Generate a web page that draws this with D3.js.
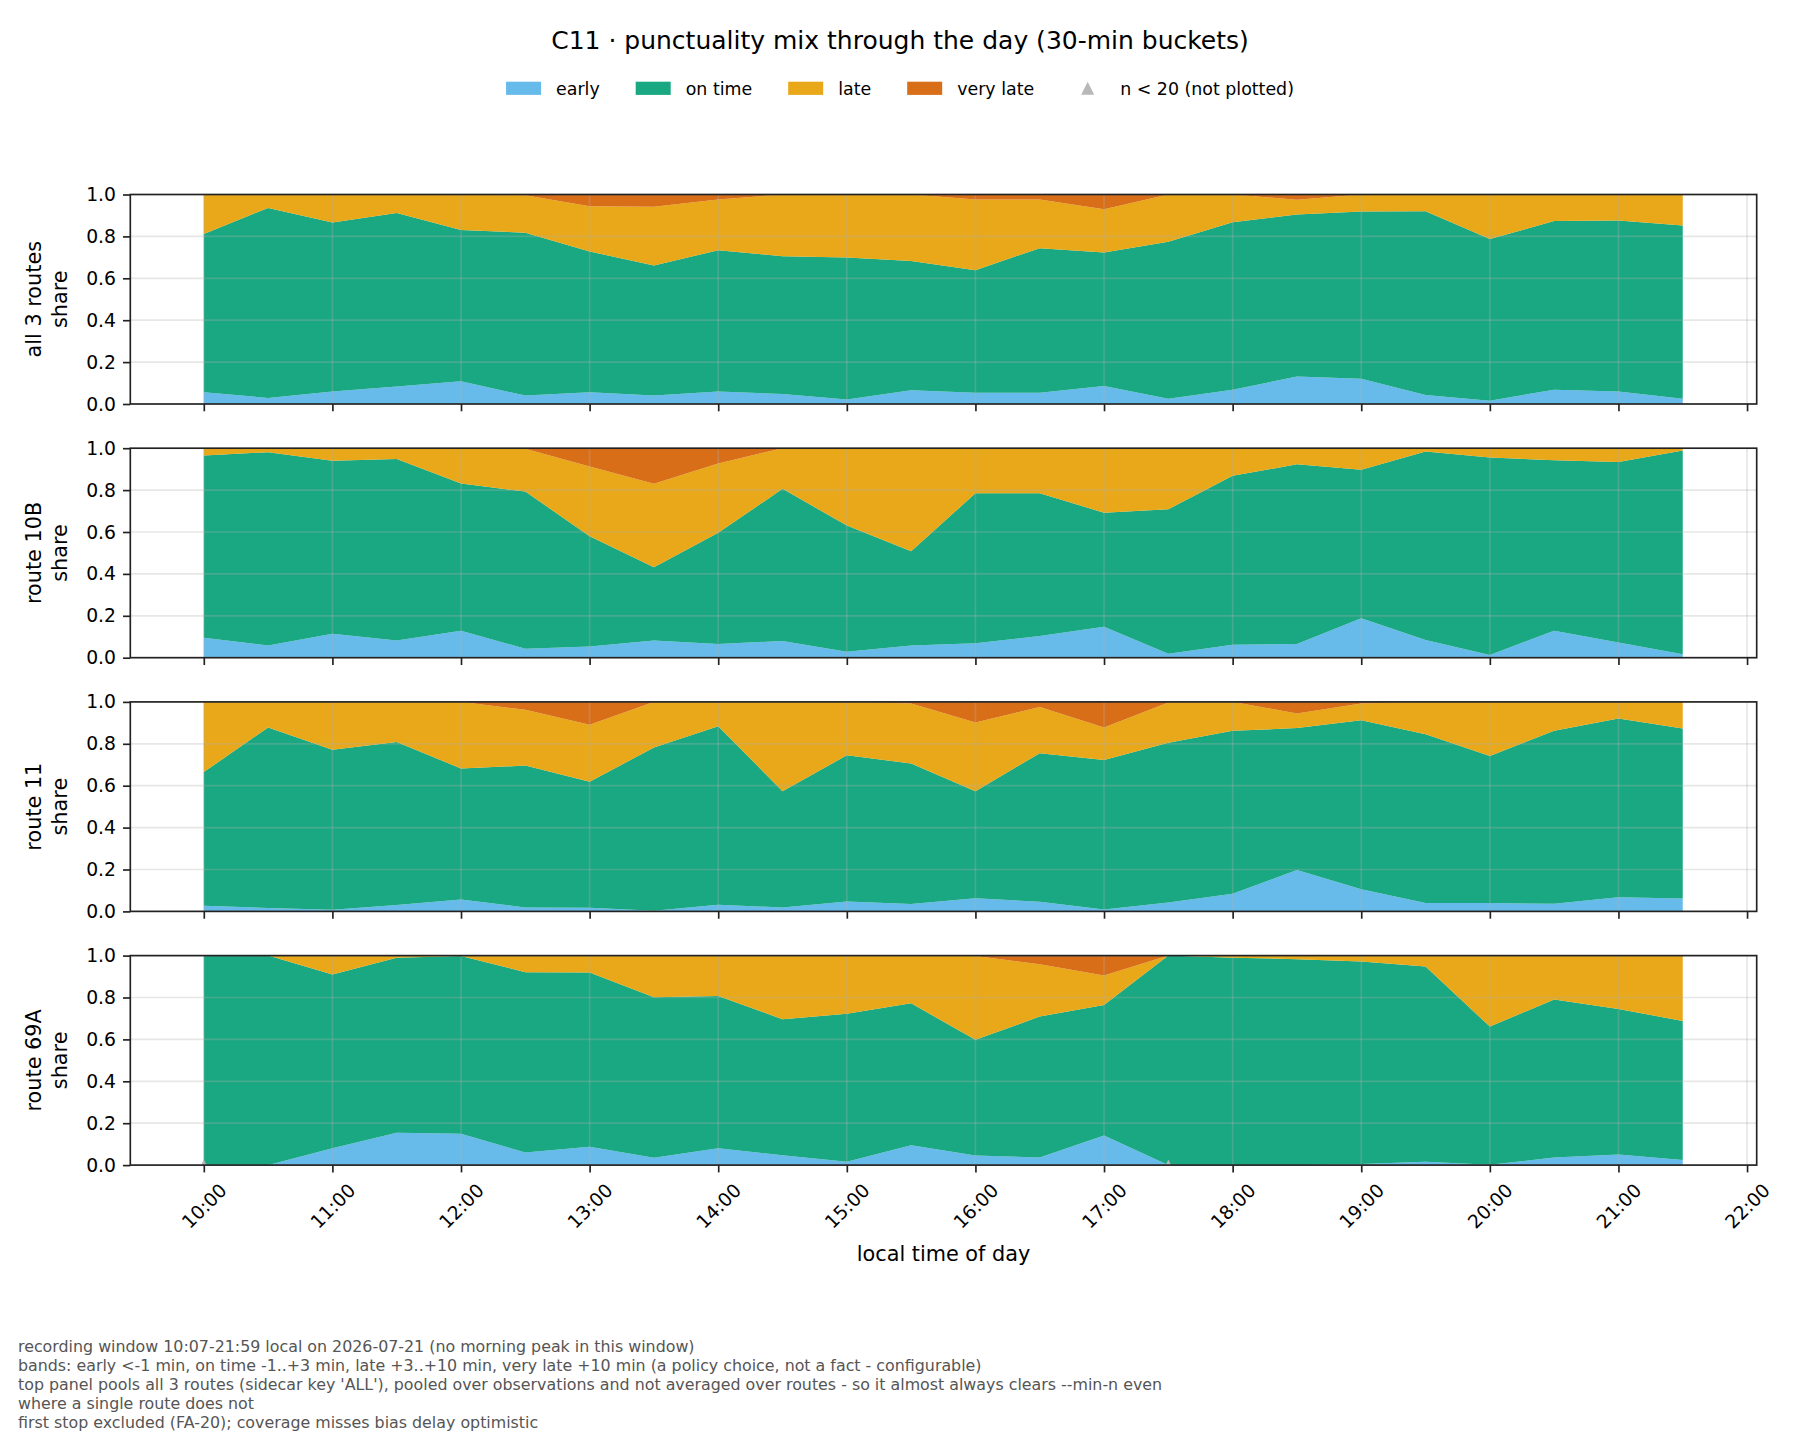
<!DOCTYPE html>
<html>
<head>
<meta charset="utf-8">
<script src="https://cdn.jsdelivr.net/npm/d3@7"></script>
<style>
  body { margin: 0; background: #fff; }
  svg text { font-family: "DejaVu Sans", sans-serif; }
</style>
</head>
<body>
<div id="chart"></div>
<script>
// 30-min buckets
const times = ["10:00", "10:30", "11:00", "11:30", "12:00", "12:30", "13:00", "13:30",
    "14:00", "14:30", "15:00", "15:30", "16:00", "16:30", "17:00", "17:30",
    "18:00", "18:30", "19:00", "19:30", "20:00", "20:30", "21:00", "21:30"];
const hourTicks = ["10:00", "11:00", "12:00", "13:00", "14:00", "15:00", "16:00",
    "17:00", "18:00", "19:00", "20:00", "21:00", "22:00"];
const yTicks = [0, 0.2, 0.4, 0.6, 0.8, 1.0];
const bands = ["early", "on time", "late", "very late"];
const bandColors = ["#56B4E9", "#009E73", "#E69F00", "#D55E00"];

// all 3 routes (pooled)
const allEarly = [0.056, 0.029, 0.060, 0.084, 0.108, 0.040, 0.056, 0.041, 0.060, 0.048, 0.022, 0.066,
    0.054, 0.054, 0.086, 0.025, 0.068, 0.131, 0.121, 0.043, 0.016, 0.068, 0.060, 0.025];
const allOnTime = [0.756, 0.907, 0.806, 0.828, 0.723, 0.778, 0.672, 0.620, 0.674, 0.657, 0.677, 0.617,
    0.585, 0.690, 0.637, 0.750, 0.800, 0.773, 0.798, 0.877, 0.772, 0.805, 0.816, 0.827];
const allLate = [0.188, 0.064, 0.134, 0.088, 0.169, 0.178, 0.216, 0.280, 0.242, 0.295, 0.301, 0.317,
    0.337, 0.232, 0.207, 0.225, 0.132, 0.071, 0.081, 0.080, 0.212, 0.127, 0.124, 0.148];
const allVeryLate = [0, 0, 0, 0, 0, 0.004, 0.056, 0.059, 0.024, 0, 0, 0,
    0.024, 0.024, 0.070, 0, 0, 0.025, 0, 0, 0, 0, 0, 0];

// route 10B
const r10bEarly = [0.095, 0.058, 0.114, 0.082, 0.129, 0.043, 0.054, 0.082, 0.065, 0.080, 0.028, 0.058,
    0.069, 0.103, 0.148, 0.019, 0.062, 0.065, 0.188, 0.085, 0.013, 0.129, 0.073, 0.016];
const r10bOnTime = [0.870, 0.923, 0.826, 0.866, 0.702, 0.750, 0.526, 0.350, 0.531, 0.726, 0.603, 0.450,
    0.716, 0.682, 0.544, 0.689, 0.806, 0.858, 0.709, 0.899, 0.943, 0.813, 0.861, 0.973];
const r10bLate = [0.035, 0.019, 0.060, 0.052, 0.169, 0.204, 0.333, 0.398, 0.331, 0.194, 0.369, 0.492,
    0.215, 0.215, 0.308, 0.292, 0.132, 0.077, 0.103, 0.016, 0.044, 0.058, 0.066, 0.011];
const r10bVeryLate = [0, 0, 0, 0, 0, 0.003, 0.087, 0.170, 0.073, 0, 0, 0,
    0, 0, 0, 0, 0, 0, 0, 0, 0, 0, 0, 0];

// route 11
const r11Early = [0.027, 0.016, 0.008, 0.030, 0.057, 0.019, 0.017, 0.003, 0.032, 0.019, 0.047, 0.035,
    0.063, 0.046, 0.009, 0.043, 0.084, 0.198, 0.106, 0.040, 0.040, 0.036, 0.068, 0.062];
const r11OnTime = [0.638, 0.862, 0.764, 0.779, 0.625, 0.677, 0.602, 0.779, 0.852, 0.555, 0.698, 0.671,
    0.511, 0.709, 0.714, 0.762, 0.778, 0.677, 0.807, 0.805, 0.702, 0.826, 0.853, 0.811];
const r11Late = [0.335, 0.122, 0.228, 0.191, 0.318, 0.266, 0.272, 0.218, 0.116, 0.426, 0.255, 0.286,
    0.328, 0.221, 0.155, 0.192, 0.138, 0.070, 0.079, 0.155, 0.258, 0.138, 0.079, 0.127];
const r11VeryLate = [0, 0, 0, 0, 0, 0.038, 0.109, 0, 0, 0, 0, 0.008,
    0.098, 0.024, 0.122, 0.003, 0, 0.055, 0.008, 0, 0, 0, 0, 0];

// route 69A
const r69aEarly = [0, 0, 0.081, 0.155, 0.150, 0.060, 0.087, 0.035, 0.081, 0.047, 0.016, 0.095,
    0.046, 0.036, 0.141, 0, 0, 0, 0.005, 0.016, 0.002, 0.036, 0.050, 0.024];
const r69aOnTime = [1.000, 1.000, 0.829, 0.835, 0.848, 0.861, 0.832, 0.766, 0.726, 0.649, 0.706, 0.677,
    0.552, 0.673, 0.623, 1.000, 0.990, 0.983, 0.967, 0.932, 0.659, 0.755, 0.695, 0.664];
const r69aLate = [0, 0, 0.090, 0.010, 0.002, 0.079, 0.081, 0.199, 0.193, 0.304, 0.278, 0.228,
    0.400, 0.250, 0.141, 0, 0.010, 0.017, 0.028, 0.052, 0.339, 0.209, 0.255, 0.312];
const r69aVeryLate = [0, 0, 0, 0, 0, 0, 0, 0, 0, 0, 0, 0,
    0.002, 0.041, 0.095, 0, 0, 0, 0, 0, 0, 0, 0, 0];
// buckets with n < 20
const r69aLowN = ["10:00", "17:30"];

const notes = [
    "recording window 10:07-21:59 local on 2026-07-21 (no morning peak in this window)",
    "bands: early <-1 min, on time -1..+3 min, late +3..+10 min, very late +10 min (a policy choice, not a fact - configurable)",
    "top panel pools all 3 routes (sidecar key 'ALL'), pooled over observations and not averaged over routes - so it almost always clears --min-n even",
    "where a single route does not",
    "first stop excluded (FA-20); coverage misses bias delay optimistic"
];

const panels = [
    {label: "all 3 routes", series: [allEarly, allOnTime, allLate, allVeryLate], lowN: []},
    {label: "route 10B", series: [r10bEarly, r10bOnTime, r10bLate, r10bVeryLate], lowN: []},
    {label: "route 11", series: [r11Early, r11OnTime, r11Late, r11VeryLate], lowN: []},
    {label: "route 69A", series: [r69aEarly, r69aOnTime, r69aLate, r69aVeryLate], lowN: r69aLowN}
];

// layout
let w = 1800, h = 1440;
let left = 130.3, right = 1756.7;
let top0 = 194.5, panelH = 209.5, step = 253.7;
let tickLen = 7.3, lw = 1.67;

let toHours = s => +s.slice(0, 2) + +s.slice(3) / 60;

let x = d3.scaleLinear()
    .domain([9.4285, 22.075])
    .range([left, right]);
let y = d3.scaleLinear()
    .domain([0, 1])
    .range([panelH, 0]);

// attach early so text can be measured for the legend
let svg = d3.select("#chart").append("svg")
    .attr("width", w)
    .attr("height", h)
    .attr("viewBox", `0 0 ${w} ${h}`);

svg.append("rect").attr("width", w).attr("height", h).attr("fill", "#fff");

// title
svg.append("text")
    .attr("x", 900)
    .attr("y", 49)
    .attr("text-anchor", "middle")
    .attr("font-size", 25)
    .text("C11 · punctuality mix through the day (30-min buckets)");

let area = d3.area()
    .x(d => x(toHours(d.data.t)))
    .y0(d => y(d[0]))
    .y1(d => y(d[1]));

let triangle = r => `M0,${-r}L${r},${r}L${-r},${r}Z`;

panels.forEach((p, pi) => {
    let g = svg.append("g").attr("transform", `translate(0, ${top0 + pi * step})`);

    let rows = times.map((t, i) => {
        let row = {t: t};
        bands.forEach((b, bi) => row[b] = p.series[bi][i]);
        return row;
    });
    let stacked = d3.stack().keys(bands)(rows);

    g.append("clipPath").attr("id", "clip" + pi)
        .append("rect")
        .attr("x", left).attr("y", 0)
        .attr("width", right - left).attr("height", panelH);

    let plot = g.append("g").attr("clip-path", `url(#clip${pi})`);

    plot.selectAll("path.band")
        .data(stacked)
        .join("path")
        .attr("class", "band")
        .attr("fill", (d, i) => bandColors[i])
        .attr("fill-opacity", 0.9)
        .attr("d", area);

    // grid on top of the bands, like matplotlib
    plot.selectAll("line.vgrid")
        .data(hourTicks)
        .join("line")
        .attr("x1", d => x(toHours(d))).attr("x2", d => x(toHours(d)))
        .attr("y1", 0).attr("y2", panelH)
        .attr("stroke", "#b0b0b0").attr("stroke-opacity", 0.3).attr("stroke-width", lw);
    plot.selectAll("line.hgrid")
        .data(yTicks)
        .join("line")
        .attr("x1", left).attr("x2", right)
        .attr("y1", d => y(d)).attr("y2", d => y(d))
        .attr("stroke", "#b0b0b0").attr("stroke-opacity", 0.3).attr("stroke-width", lw);

    // n < 20 markers
    plot.selectAll("path.lown")
        .data(p.lowN)
        .join("path")
        .attr("transform", d => `translate(${x(toHours(d))}, ${y(0)})`)
        .attr("d", triangle(5.5))
        .attr("fill", "#b8b8b8");

    // y axis
    let yAxis = g.append("g")
        .attr("transform", `translate(${left}, 0)`)
        .call(d3.axisLeft(y).tickValues(yTicks).tickFormat(d3.format(".1f"))
            .tickSize(tickLen).tickPadding(7));
    yAxis.select(".domain").remove();
    yAxis.selectAll("line").attr("stroke", "#222").attr("stroke-width", lw);
    yAxis.selectAll("text")
        .attr("font-size", 18.75)
        .attr("font-family", "DejaVu Sans")
        .attr("fill", "#000");

    // x axis (labels only on the bottom panel)
    let xAxis = g.append("g")
        .attr("transform", `translate(0, ${panelH})`)
        .call(d3.axisBottom(x).tickValues(hourTicks.map(toHours))
            .tickFormat((d, i) => pi === panels.length - 1 ? hourTicks[i] : "")
            .tickSize(tickLen));
    xAxis.select(".domain").remove();
    xAxis.selectAll("line").attr("stroke", "#222").attr("stroke-width", lw);
    xAxis.selectAll("text")
        .attr("font-size", 18.75)
        .attr("font-family", "DejaVu Sans")
        .attr("fill", "#000")
        .attr("y", null)
        .attr("dy", null)
        .attr("text-anchor", "middle")
        .attr("dominant-baseline", "central")
        .attr("transform", "translate(0, 41) rotate(-45)");

    // spines
    g.append("rect")
        .attr("x", left).attr("y", 0)
        .attr("width", right - left).attr("height", panelH)
        .attr("fill", "none")
        .attr("stroke", "#222")
        .attr("stroke-width", lw);

    // y label, two lines
    let cy = panelH / 2;
    [p.label, "share"].forEach((s, li) => {
        g.append("text")
            .attr("transform", `translate(${41 + li * 25.5}, ${cy}) rotate(-90)`)
            .attr("text-anchor", "middle")
            .attr("font-size", 20.8)
            .text(s);
    });
});

// x label
svg.append("text")
    .attr("x", (left + right) / 2)
    .attr("y", 1261)
    .attr("text-anchor", "middle")
    .attr("font-size", 20.8)
    .text("local time of day");

// legend
let legend = svg.append("g");
let lfs = 17.4, lx = 0;
let items = bands.map((b, i) => ({label: b, color: bandColors[i], kind: "patch"}))
    .concat([{label: "n < 20 (not plotted)", color: "#b8b8b8", kind: "marker"}]);
items.forEach((it, i) => {
    let ig = legend.append("g").attr("transform", `translate(${lx}, 0)`);
    if (it.kind === "patch") {
        ig.append("rect")
            .attr("x", 0).attr("y", -6.6)
            .attr("width", 35).attr("height", 13.2)
            .attr("fill", it.color).attr("fill-opacity", 0.9);
    } else {
        ig.append("path")
            .attr("transform", "translate(17.5, 0)")
            .attr("d", triangle(6.5))
            .attr("fill", it.color);
    }
    let t = ig.append("text")
        .attr("x", 50)
        .attr("y", 6.2)
        .attr("font-size", lfs)
        .text(it.label);
    lx += 50 + t.node().getComputedTextLength() + 36;
});
legend.attr("transform", `translate(${900 - (lx - 36) / 2}, 88.3)`);

// footnotes
svg.append("g")
    .selectAll("text")
    .data(notes)
    .join("text")
    .attr("x", 18)
    .attr("y", (d, i) => 1352 + i * 19)
    .attr("font-size", 15.85)
    .attr("fill", "#555")
    .text(d => d);
</script>
</body>
</html>
